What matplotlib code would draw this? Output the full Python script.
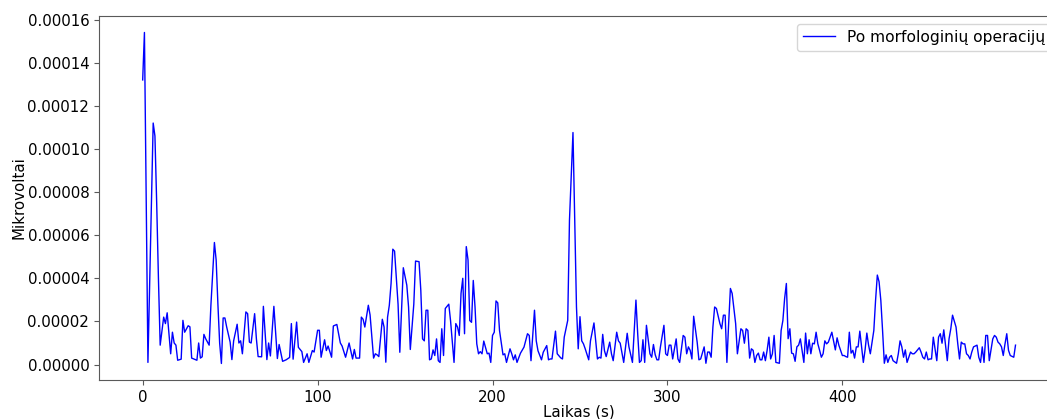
import numpy as np
import matplotlib
matplotlib.use("Agg")
import matplotlib.pyplot as plt
from matplotlib.ticker import FormatStrFormatter

# signal after morphological operations (units of 1e-6)
laikas = [0, 1, 3, 6, 7, 8, 9, 10, 12, 13, 14, 16, 17, 18, 19, 20, 22, 23, 24, 26,
          27, 28, 30, 31, 32, 33, 34, 35, 36, 38, 39, 41, 42, 43, 44, 45, 46, 47, 48, 50,
          51, 52, 54, 55, 56, 57, 59, 60, 61, 62, 64, 65, 66, 68, 69, 71, 72, 73, 75, 77,
          78, 80, 82, 84, 85, 86, 88, 89, 90, 91, 92, 94, 95, 97, 98, 100, 101, 102, 104, 105,
          106, 108, 109, 111, 113, 114, 116, 118, 120, 121, 122, 124, 125, 126, 127, 129, 130, 132, 133, 134,
          135, 137, 138, 139, 140, 141, 142, 143, 144, 146, 147, 149, 151, 152, 153, 155, 156, 158, 159, 160,
          161, 162, 163, 164, 165, 166, 167, 168, 169, 170, 171, 172, 173, 175, 176, 178, 179, 180, 181, 182,
          183, 184, 185, 186, 187, 188, 189, 190, 191, 192, 193, 194, 195, 197, 198, 199, 200, 201, 202, 203,
          204, 206, 207, 208, 210, 211, 212, 213, 214, 216, 218, 220, 221, 222, 224, 225, 226, 228, 229, 231,
          232, 233, 234, 236, 237, 239, 240, 241, 243, 244, 246, 247, 248, 249, 250, 251, 252, 253, 255, 256,
          258, 260, 261, 262, 263, 264, 265, 267, 268, 269, 271, 272, 273, 275, 277, 278, 280, 282, 283, 284,
          285, 286, 287, 288, 290, 291, 292, 293, 294, 295, 296, 298, 299, 300, 301, 302, 303, 305, 306, 307,
          309, 310, 311, 312, 313, 314, 315, 317, 318, 319, 321, 322, 323, 324, 325, 326, 327, 328, 330, 331,
          332, 333, 334, 335, 336, 337, 339, 340, 342, 343, 344, 345, 346, 347, 348, 349, 350, 351, 352, 353,
          354, 355, 356, 357, 358, 359, 360, 361, 362, 364, 365, 366, 367, 368, 369, 370, 371, 372, 373, 374,
          375, 376, 377, 378, 379, 380, 381, 382, 383, 384, 385, 386, 387, 388, 389, 390, 391, 392, 393, 394,
          395, 396, 397, 398, 400, 401, 402, 403, 404, 405, 406, 407, 408, 409, 410, 411, 412, 413, 414, 415,
          416, 418, 419, 420, 421, 422, 423, 424, 425, 426, 427, 428, 429, 431, 432, 433, 434, 435, 436, 437,
          439, 440, 441, 442, 443, 444, 445, 446, 447, 448, 449, 450, 451, 452, 454, 455, 456, 457, 458, 459,
          460, 461, 462, 463, 465, 466, 467, 468, 469, 470, 471, 472, 473, 474, 475, 477, 478, 479, 480, 481,
          482, 483, 484, 486, 487, 488, 489, 490, 491, 492, 493, 494, 495, 496, 498, 499]

signalas = [132, 154, 1, 112, 106, 75, 40, 9, 22, 19, 24, 5, 15, 10, 9, 2, 2.5, 20.5, 15, 18,
            17.5, 3, 2.3, 2, 10, 3, 3.6, 14, 12, 9, 27.5, 56.6, 48.5, 28, 10, 0.5, 21.6, 21.6, 17.5, 10.4,
            2.3, 11, 18.7, 10, 11, 5, 24.4, 23.6, 10.4, 10, 23.6, 12, 3.7, 3.6, 27, 2.3, 10, 4, 27, 2.8,
            9.3, 1.5, 2.2, 3.3, 19, 2.5, 19.7, 8, 7, 6, 1, 5, 1, 6.5, 5.8, 15.9, 15.9, 3.4, 11.5, 6.5,
            8.6, 3.4, 17.9, 18.6, 10, 8.6, 3.4, 10, 2.6, 7, 3, 3, 22, 21, 17.4, 27.5, 23, 3, 5, 4.5,
            3.7, 21, 17.4, 1.1, 22, 27.5, 37.6, 53.5, 52.6, 28, 5.7, 44.9, 36.8, 26.7, 7, 28, 48, 47.7, 34.5, 11.9,
            11, 25.2, 25.2, 2.2, 2.6, 6.8, 4.2, 11.9, 1.8, 1, 16.6, 4.2, 26, 28, 20.4, 1, 19, 17.4, 13.5, 33,
            40, 14.3, 54.7, 48.5, 20.4, 19.6, 39, 26.7, 9.6, 5, 6, 5, 10.9, 5, 5.3, 1, 13.5, 15, 29.5, 28.6,
            15.8, 4.5, 5, 1, 7.3, 5, 2.2, 4.5, 1, 5.3, 8.1, 14.3, 13.5, 1.8, 25.2, 11, 6.4, 2.2, 5.7, 8.8,
            2.2, 2.6, 2.6, 15.5, 5, 3.1, 2.6, 12.7, 20.5, 67, 107.6, 67, 26.7, 7.3, 22.2, 11, 9.6, 7.3, 2.2, 11,
            19.3, 2.6, 3.4, 3, 14, 6.4, 3.7, 10.4, 5, 1.8, 15, 11, 9.9, 1, 14.5, 8.2, 1, 29.9, 14.3, 1,
            1.8, 11.5, 1, 18.2, 5, 3.4, 9.3, 4.6, 2.2, 2.2, 8.2, 18.2, 5, 4.2, 9, 9, 2.6, 11.9, 2.6, 1,
            13.5, 12.7, 5, 8.2, 6.6, 2.6, 22.4, 10.4, 2.2, 2.6, 8.2, 0.6, 5.8, 5.8, 3.4, 17.4, 26.7, 26, 19, 16.6,
            22.9, 22.9, 1, 19, 35.3, 33, 19, 5, 16.6, 15.8, 9.9, 16.6, 15.8, 3, 7.3, 6.6, 1, 4.2, 5.3, 2.2,
            2.2, 5.8, 1.8, 6.6, 12.7, 2.6, 5, 13.5, 1, 0.6, 15.8, 20.4, 30.6, 37.6, 12, 16.6, 5.3, 5, 1.5, 8.2,
            9, 11.9, 6.6, 1, 14.6, 5, 11.5, 5, 9.9, 9.6, 15, 9.6, 6.6, 3.4, 5, 11, 9.6, 10.4, 12.7, 15,
            11, 6.8, 12.4, 9, 4.2, 4.2, 3.7, 3.4, 15, 5.3, 6.6, 3, 8.2, 8.2, 15.5, 8.2, 1, 6.8, 14.6, 9,
            5, 15.8, 29.8, 41.5, 38.4, 29.8, 15.8, 0.6, 4.5, 1, 3.4, 4.2, 1.8, 0.6, 5, 11, 8.2, 3.4, 6.8, 1,
            5.8, 5, 5, 5.8, 6.8, 7.8, 5.8, 3.4, 2.6, 5.8, 2.2, 2.6, 2.6, 12.7, 1.8, 12.7, 14.3, 9.9, 16.1, 9,
            1.8, 11.9, 16.6, 22.9, 17.4, 9.6, 2.6, 10.4, 9.6, 9.6, 5, 4.2, 2.6, 5.8, 8.2, 9, 3.4, 1, 8.2, 1,
            13.5, 13.5, 1.8, 11.9, 13.5, 12.7, 10.4, 9.6, 8.2, 4.2, 9.6, 14.3, 6.6, 4.2, 3.4, 9]

x_ticks = [0, 100, 200, 300, 400]

x = np.array(laikas)
y = np.array(signalas) * 1e-6

fig = plt.figure(figsize=(10.47, 4.19), dpi=100)
ax = fig.add_axes([0.0946, 0.093, 0.917, 0.869])
ax.plot(x, y, color="#0000ff", linewidth=1, label="Po morfologinių operacijų")

fs = 10.8
ax.set_xticks(x_ticks)
ax.yaxis.set_major_formatter(FormatStrFormatter("%.5f"))
ax.set_yticks(np.arange(0, 0.000161, 0.00002))
ax.tick_params(labelsize=fs, color="0.35")
for s in ax.spines.values():
    s.set_color("0.35")
ax.set_xlabel("Laikas (s)", fontsize=fs, labelpad=0)
ax.set_ylabel("Mikrovoltai", fontsize=fs, labelpad=1)
ax.legend(loc="upper right", fontsize=11.2)

fig.savefig("out.png", dpi=100)
